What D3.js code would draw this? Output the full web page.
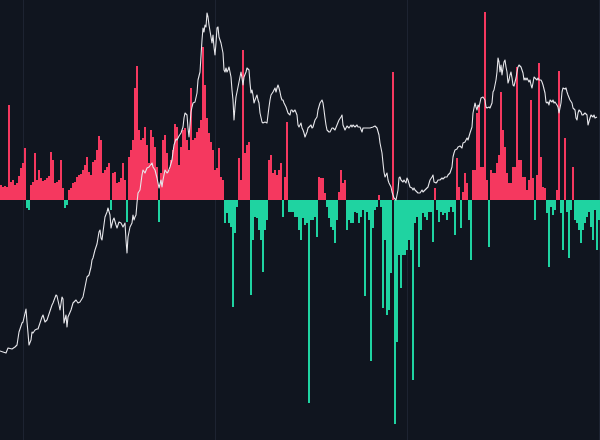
<!DOCTYPE html>
<html>
<head>
<meta charset="utf-8">
<script src="https://cdn.jsdelivr.net/npm/d3@7"></script>
<style>
  html, body { margin: 0; padding: 0; background: #10151f; }
  svg { display: block; }
</style>
</head>
<body>
<div id="chart"></div>
<script>
// ---- DATA ----
// Oscillator bars: one value per 2-day step (positive = red, negative = green)
const barValues = [
  15, 13, 14, 13, 95, 18, 20, 15, 17, 24, 32, 37, 52, -8, -10, 15, 18, 47, 20, 30,
  22, 19, 20, 22, 24, 48, 40, 17, 18, 20, 40, 12, -8, -5, 10, 12, 17, 18, 23, 25,
  26, 30, 35, 43, 28, 25, 38, 40, 50, 64, 60, 27, 30, 33, 37, -10, 27, 28, 17, 18,
  22, 37, 20, -22, 43, 50, 60, 112, 134, 70, 60, 62, 73, 55, 37, 70, 63, 53, 33, -22,
  27, 60, 65, 47, 30, 40, 50, 76, 73, 35, 53, 70, 72, 60, 50, 112, 60, 62, 68, 72,
  80, 153, 115, 82, 67, 58, 50, 30, 32, 52, 23, 20, -23, -13, -23, -27, -107, -33, -7, 42,
  20, 150, 47, 55, 58, -95, -40, -17, -18, -30, -40, -72, -30, -20, 40, 45, 27, 30, 25, 30,
  37, -17, 23, 78, -12, -12, -12, -17, -17, -30, -40, -18, -25, -23, -203, -20, -20, -17, -37, 23,
  22, 22, 7, -7, -18, -27, -30, -43, -20, 8, 30, 17, 20, -30, -20, -23, -23, -12, -13, -23,
  -17, -10, -96, -12, -20, -161, -28, -10, -7, 5, -7, -108, -40, -115, -110, -73, 128, -224, -142, -55,
  -88, -55, -55, -50, -40, -50, -180, -23, -17, -67, -30, -13, -17, -20, -12, -12, -42, 12, -10, -22,
  -12, -15, -13, -20, -12, -7, -12, -35, 42, 13, -28, 8, 27, 17, -20, -60, 30, 30, 87, 95,
  33, 33, 188, 20, -47, 30, 27, 27, 37, 45, 108, 70, 53, 27, 17, 17, 33, 33, 133, 40,
  40, 23, 23, 10, 20, 100, 22, -20, 25, 137, 43, 13, 12, -13, -67, -7, -15, -10, 10, 129,
  -13, -50, 62, -12, -58, -10, 33, -20, -23, -30, -43, -30, -23, -17, -12, -27, -40, -10, -50, -20
];
const barStepDays = 4;

// Price line: day index and value
const priceDays = [
  0, 6, 12, 16, 24, 30, 34, 38, 44, 46, 52, 54, 56, 58, 62, 64, 66, 70, 74, 76, 80, 84, 86, 90, 94, 98, 104, 106, 112, 114, 118, 120, 124, 126, 128, 132, 134, 136, 142, 146, 152, 156, 160, 166,
  170, 174, 178, 182, 184, 186, 190, 194, 198, 200, 202, 204, 206, 210, 214, 216, 220, 222, 226, 228, 232, 234, 238, 242, 246, 250, 252, 254, 256, 260, 264, 266, 268, 270, 272, 274, 276, 280, 284, 286, 290, 294, 298, 304, 306, 310, 314, 316, 318, 322, 324, 326, 330, 334, 336, 340, 344, 346, 348, 352, 354, 358, 362, 366, 368, 370, 374, 376, 378, 382, 384, 386, 390, 394, 396, 400,
  404, 406, 408, 410, 412, 414, 416, 418, 422, 424, 426, 428, 430, 432, 434, 436, 438, 442, 444, 446, 448, 450, 452, 454, 456, 458, 462, 464, 466, 468, 470, 472, 474, 476, 480, 482, 484, 486, 488, 492, 494, 498, 500, 502, 504, 506, 508, 510, 514, 516, 518, 520, 524, 526, 530, 534, 536, 538, 540, 542, 546, 548, 550, 552, 554, 556, 558, 560, 562, 564, 566, 568, 572, 574, 576, 580, 582, 584, 586, 590, 594, 596, 598, 602, 604, 606, 608, 610, 614, 616, 618, 622, 624, 626, 630, 634, 636, 640, 644, 646, 648, 650, 652, 654, 658, 660, 664, 666, 670, 674, 678, 682, 684, 686, 690, 692, 694, 698, 702, 704, 706, 710, 714, 716, 720, 724, 726, 730, 734, 740, 746, 750, 754, 758, 760, 764, 766, 768, 770, 774, 776, 778, 782, 784, 786, 788, 792, 796, 798, 800, 802, 806, 808, 812, 814, 816, 820, 824, 826, 828, 830, 834, 836, 840, 844, 846, 850, 854, 856, 860, 864, 866, 868, 872, 874, 876, 880, 884, 886, 890, 894, 896, 900, 904, 906, 908, 910, 914, 916, 920, 924, 926, 930, 934, 936, 940, 944, 946, 950, 952, 954, 956, 958, 962, 966, 970, 972, 974, 978, 980, 984, 986, 988, 992, 994, 996, 998, 1000, 1002, 1004, 1006, 1008, 1010, 1012, 1014, 1016, 1018, 1020, 1022, 1024, 1026, 1028, 1032, 1034, 1036, 1038, 1042, 1044, 1046, 1048, 1050, 1052, 1054, 1058, 1060, 1062, 1064, 1066, 1068, 1070, 1074, 1076, 1078, 1082, 1084, 1086, 1090, 1092, 1094, 1096, 1098, 1100, 1104, 1106, 1108, 1110, 1114, 1116, 1118, 1122, 1124, 1126, 1130, 1132, 1134, 1136, 1140, 1144, 1146, 1150, 1152, 1154, 1156, 1158, 1162, 1164, 1166, 1170, 1174, 1176, 1180, 1182, 1186, 1188, 1190, 1194, 1196, 1200
];
const priceValues = [
  89, 88, 87, 92, 91, 93, 95, 108, 117, 118, 131, 118, 107, 95, 100, 108, 107, 110, 111, 111, 117, 123, 125, 118, 120, 126, 135, 137, 145, 144, 135, 130, 143, 141, 117, 125, 113, 123, 130, 137, 140, 137, 138, 143,
  153, 163, 165, 173, 180, 182, 190, 196, 208, 210, 202, 200, 208, 223, 228, 232, 225, 212, 220, 222, 215, 212, 218, 217, 213, 217, 200, 187, 203, 213, 217, 225, 220, 223, 225, 237, 247, 250, 265, 270, 267, 272, 273, 277, 273, 270, 262, 257, 252, 260, 253, 260, 270, 267, 268, 273, 280, 288, 295, 301, 300, 304, 307, 313, 322, 327, 325, 312, 303, 328, 333, 337, 338, 347, 360, 368,
  400, 412, 408, 415, 413, 427, 423, 415, 403, 397, 405, 393, 385, 397, 412, 413, 403, 397, 392, 387, 370, 368, 372, 368, 370, 373, 363, 350, 340, 320, 333, 343, 348, 353, 363, 368, 362, 355, 363, 368, 372, 370, 357, 347, 350, 345, 337, 340, 345, 340, 337, 327, 318, 317, 318, 317, 325, 333, 340, 345, 348, 350, 352, 348, 352, 355, 352, 348, 343, 340, 340, 337, 333, 330, 327, 325, 330, 330, 328, 330, 325, 315, 313, 317, 312, 310, 307, 303, 308, 312, 313, 315, 312, 313, 320, 323, 330, 337, 340, 337, 330, 322, 315, 310, 308, 308, 312, 312, 310, 315, 320, 323, 325, 315, 310, 312, 314, 312, 315, 313, 315, 313, 315, 313, 313, 308, 312, 312, 312, 312, 313, 314, 312, 305, 297, 287, 277, 268, 263, 267, 260, 257, 253, 248, 245, 242, 240, 250, 262, 263, 260, 258, 260, 257, 262, 260, 253, 252, 250, 252, 250, 248, 247, 247, 250, 248, 250, 252, 253, 260, 263, 265, 258, 257, 258, 260, 260, 262, 261, 263, 263, 265, 267, 273, 283, 287, 290, 291, 293, 294, 292, 297, 298, 302, 300, 307, 313, 327, 337, 333, 330, 335, 333, 342, 343, 340, 333, 332, 333, 332, 337, 348, 350, 360, 368, 382, 378, 368, 375, 365, 372, 378, 380, 373, 368, 357, 360, 365, 368, 362, 355, 354, 362, 368, 373, 375, 373, 370, 367, 360, 362, 360, 362, 358, 360, 355, 352, 357, 363, 362, 360, 362, 360, 360, 358, 355, 347, 338, 337, 338, 335, 340, 338, 340, 337, 338, 335, 333, 327, 337, 348, 352, 351, 352, 348, 345, 340, 337, 332, 330, 322, 320, 327, 330, 328, 325, 325, 327, 325, 315, 322, 325, 323, 325, 322, 323
];
const gridDays = [46, 430, 814, 1198];

// ---- CHART ----
const W = 600, H = 440;
const svg = d3.select("#chart").append("svg").attr("width", W).attr("height", H);
svg.append("rect").attr("width", W).attr("height", H).attr("fill", "#10151f");

const x = d3.scaleLinear().domain([0, 1200]).range([0, W]);
const yBar = d3.scaleLinear().domain([-240, 200]).range([H, 0]);
const yPrice = d3.scaleLinear().domain([0, 440]).range([H, 0]);

// vertical grid
const grid = svg.append("g").attr("transform", `translate(0,${H})`)
  .call(d3.axisBottom(x).tickValues(gridDays).tickSize(-H).tickFormat(""));
grid.select(".domain").remove();
grid.selectAll(".tick line").attr("stroke", "#1d2331").attr("stroke-width", 1);

// bars
svg.append("g").selectAll("rect").data(barValues).join("rect")
  .attr("x", (d, i) => x(i * barStepDays))
  .attr("width", (d, i) => x((i + 1) * barStepDays) - x(i * barStepDays))
  .attr("y", d => d >= 0 ? yBar(d) : yBar(0))
  .attr("height", d => Math.abs(yBar(d) - yBar(0)))
  .attr("fill", d => d >= 0 ? "#f5385f" : "#1fd3a1")
  .attr("shape-rendering", "crispEdges");

// price line
const pts = priceDays.map((d, i) => [d, priceValues[i]]);
svg.append("path").datum(pts)
  .attr("fill", "none")
  .attr("stroke", "#e6e6ea")
  .attr("stroke-width", 1.1)
  .attr("stroke-linejoin", "round")
  .attr("d", d3.line().x(d => x(d[0])).y(d => yPrice(d[1])));
</script>
</body>
</html>
